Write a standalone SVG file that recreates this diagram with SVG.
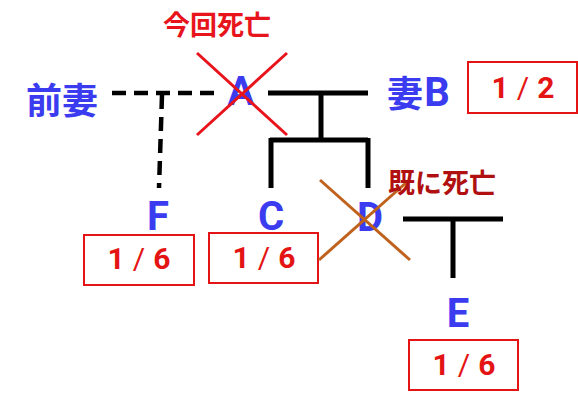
<svg xmlns="http://www.w3.org/2000/svg" width="578" height="400" viewBox="0 0 578 400">
<style>
.name{font-family:"Noto Sans CJK JP","Liberation Sans",sans-serif;font-weight:bold;fill:#3b3bef;text-anchor:middle}
.let{font-family:Roboto,"Liberation Sans",sans-serif;font-weight:bold;fill:#3b3bef;text-anchor:middle;font-size:40px}
.note{font-family:"Noto Sans CJK JP",sans-serif;font-weight:bold;font-size:27px;text-anchor:middle}
.box{fill:#fff;stroke:#e41414;stroke-width:2}
.frac{font-family:Roboto,"Liberation Sans",sans-serif;font-weight:bold;font-size:30px;fill:#e41414;text-anchor:middle}
.sl{font-weight:normal}
.solid{stroke:#000;stroke-width:5;fill:none}
.dash{stroke:#000;stroke-width:4.5;fill:none;stroke-dasharray:14 8}
</style>
<rect width="578" height="400" fill="#fff"/>
<g id="connectors">
<path class="dash" d="M112 93 H214"/>
<path class="dash" d="M162 95 L159 188"/>
<path class="solid" d="M268 93 H368 M321 93 V140 M270 140 H368 M271 138 V188 M368 138 V188"/>
<path class="solid" d="M403 219 H503 M453 219 V278"/>
</g>
<g id="zenmai"><text class="name" x="62" y="114" font-size="36">前妻</text></g>
<g id="A">
<text class="let" x="241" y="105">A</text>
<path d="M197 53 L287 135 M287 53 L197 135" stroke="#e8141c" stroke-width="3"/>
<text class="note" x="217" y="35" fill="#e8141c">今回死亡</text>
</g>
<g id="B">
<text class="name" x="405" y="107" font-size="36">妻</text>
<text class="let" x="437" y="106">B</text>
<rect class="box" x="468" y="62" width="109" height="51"/>
<text class="frac" x="523" y="98">1<tspan class="sl" dx="8">/</tspan><tspan dx="8">2</tspan></text>
</g>
<g id="F">
<text class="let" x="158" y="230">F</text>
<rect class="box" x="84" y="235" width="110" height="50"/>
<text class="frac" x="139" y="269">1<tspan class="sl" dx="8">/</tspan><tspan dx="8">6</tspan></text>
</g>
<g id="C">
<text class="let" x="271" y="230">C</text>
<rect class="box" x="209" y="233" width="109" height="50"/>
<text class="frac" x="264" y="268">1<tspan class="sl" dx="8">/</tspan><tspan dx="8">6</tspan></text>
</g>
<g id="D">
<text class="let" x="370" y="231">D</text>
<path d="M320 180 L410 260 M408 181 L319 260" stroke="#c0621e" stroke-width="3"/>
<text class="note" x="442" y="193" fill="#b01010">既に死亡</text>
</g>
<g id="E">
<text class="let" x="458" y="327">E</text>
<rect class="box" x="409" y="340" width="109" height="50"/>
<text class="frac" x="464" y="375">1<tspan class="sl" dx="8">/</tspan><tspan dx="8">6</tspan></text>
</g>
</svg>
